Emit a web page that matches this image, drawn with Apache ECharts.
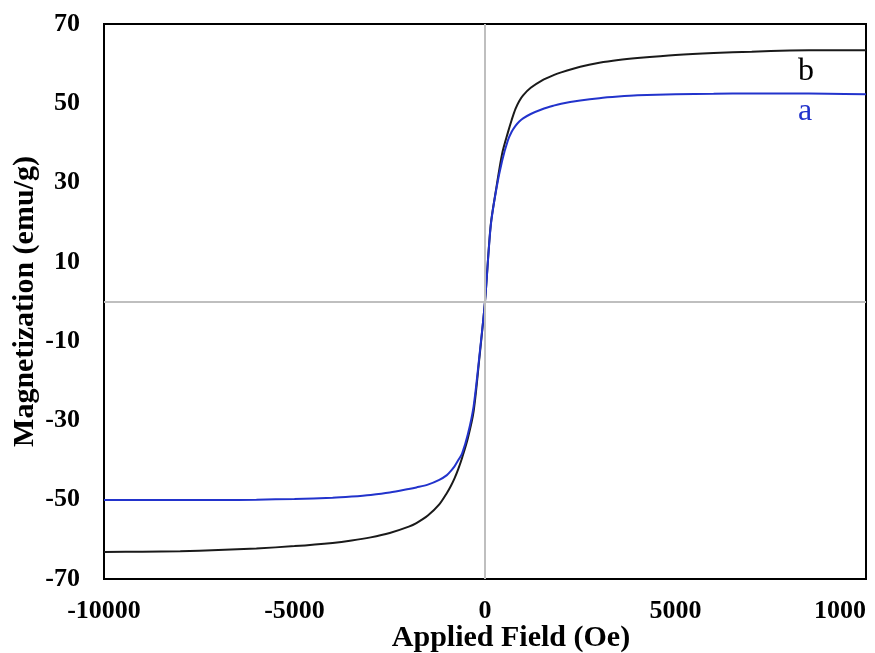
<!DOCTYPE html>
<html>
<head>
<meta charset="utf-8">
<script src="https://cdn.jsdelivr.net/npm/echarts@6/dist/echarts.min.js"></script>
<style>html,body{margin:0;padding:0;background:#fff}#c{width:875px;height:653px}</style>
</head>
<body>
<div id="c"></div>
<script>
var fieldOe = [-10000, -9000, -8000, -7000, -6000, -5000, -4000, -3500, -3000, -2500, -2000, -1800, -1500, -1200, -1000, -900, -800, -700, -600, -450, -300, -150, 0, 150, 300, 450, 600, 700, 800, 900, 1000, 1200, 1500, 1800, 2000, 2500, 3000, 3500, 4000, 5000, 6000, 7000, 8000, 9000, 10000];
var seriesB = [-63.2, -63.1, -63.0, -62.7, -62.3, -61.7, -60.9, -60.3, -59.5, -58.4, -56.8, -55.9, -54.0, -51.2, -48.3, -46.6, -44.6, -42.2, -39.4, -34.5, -27.8, -14.5, 0, 19.3, 28.8, 37.3, 42.6, 45.8, 48.6, 50.6, 52.0, 53.9, 55.8, 57.1, 57.8, 59.2, 60.2, 60.9, 61.4, 62.2, 62.7, 63.0, 63.3, 63.4, 63.4];
var seriesA = [-50.1, -50.1, -50.1, -50.1, -50.0, -49.8, -49.5, -49.2, -48.8, -48.2, -47.3, -46.9, -46.2, -45.0, -43.8, -42.8, -41.6, -40.0, -38.3, -33.5, -26.5, -14.0, 0, 19.0, 28.5, 35.5, 40.6, 42.8, 44.3, 45.4, 46.2, 47.3, 48.5, 49.4, 49.9, 50.7, 51.3, 51.7, 52.0, 52.3, 52.4, 52.5, 52.5, 52.4, 52.3];
var xTicks = [-10000, -5000, 0, 5000, 10000];
var xTickLabels = ['-10000', '-5000', '0', '5000', '1000'];
var yTicks = [-70, -50, -30, -10, 10, 30, 50, 70];
var curveLabels = [{name: 'b', x: 8425, y: 58.1, color: '#000000'}, {name: 'a', x: 8400, y: 47.8, color: '#2233cc'}];

function pairs(xs, ys) { return xs.map(function (x, i) { return [x, ys[i]]; }); }

var font = 'Liberation Serif, Times New Roman, serif';
function labelPoint(lbl) {
  return {
    symbol: 'circle', symbolSize: 1, silent: true,
    itemStyle: {color: 'rgba(0,0,0,0)'},
    label: {show: true, position: 'inside', formatter: '{b}', color: lbl.color, fontFamily: font, fontSize: 32},
    data: [{name: lbl.name, coord: [lbl.x, lbl.y]}]
  };
}
var chart = echarts.init(document.getElementById('c'), null, {renderer: 'canvas'});
chart.setOption({
  animation: false,
  backgroundColor: '#ffffff',
  grid: {left: 104, right: 9, top: 24, bottom: 74, show: true, borderColor: '#000', borderWidth: 2, backgroundColor: 'transparent', containLabel: false, outerBoundsMode: 'none'},
  xAxis: {
    type: 'value', min: -10000, max: 10000, interval: 5000,
    axisLine: {show: false}, axisTick: {show: false}, splitLine: {show: false},
    axisLabel: {
      margin: 19, color: '#000', fontFamily: font, fontWeight: 'bold', fontSize: 26,
      alignMaxLabel: 'right',
      formatter: function (v) { var i = xTicks.indexOf(v); return i >= 0 ? xTickLabels[i] : ''; }
    },
    name: 'Applied Field (Oe)', nameLocation: 'middle', nameGap: 44, nameMoveOverlap: false,
    nameTextStyle: {color: '#000', fontFamily: font, fontWeight: 'bold', fontSize: 30, padding: [0, 0, 0, 52]}
  },
  yAxis: {
    type: 'value', min: -70, max: 70, interval: 20,
    axisLine: {show: false}, axisTick: {show: false}, splitLine: {show: false},
    axisLabel: {
      margin: 24, color: '#000', fontFamily: font, fontWeight: 'bold', fontSize: 26,
      formatter: function (v) { return yTicks.indexOf(v) >= 0 ? String(v) : ''; }
    },
    name: 'Magnetization (emu/g)', nameLocation: 'middle', nameGap: 64, nameRotate: 90, nameMoveOverlap: false,
    nameTextStyle: {color: '#000', fontFamily: font, fontWeight: 'bold', fontSize: 30}
  },
  series: [
    {
      type: 'line', data: [], z: 1, silent: true,
      markLine: {
        silent: true, symbol: ['none', 'none'], label: {show: false},
        lineStyle: {color: '#bfbfbf', width: 2, type: 'solid'},
        data: [{xAxis: 0}, {yAxis: 0}]
      }
    },
    {
      name: 'b', type: 'line', data: pairs(fieldOe, seriesB), smooth: 0.3, showSymbol: false, z: 3,
      lineStyle: {color: '#1a1a1a', width: 2},
      markPoint: labelPoint(curveLabels[0])
    },
    {
      name: 'a', type: 'line', data: pairs(fieldOe, seriesA), smooth: 0.3, showSymbol: false, z: 4,
      lineStyle: {color: '#2233cc', width: 2},
      markPoint: labelPoint(curveLabels[1])
    }
  ]
});
</script>
</body>
</html>
